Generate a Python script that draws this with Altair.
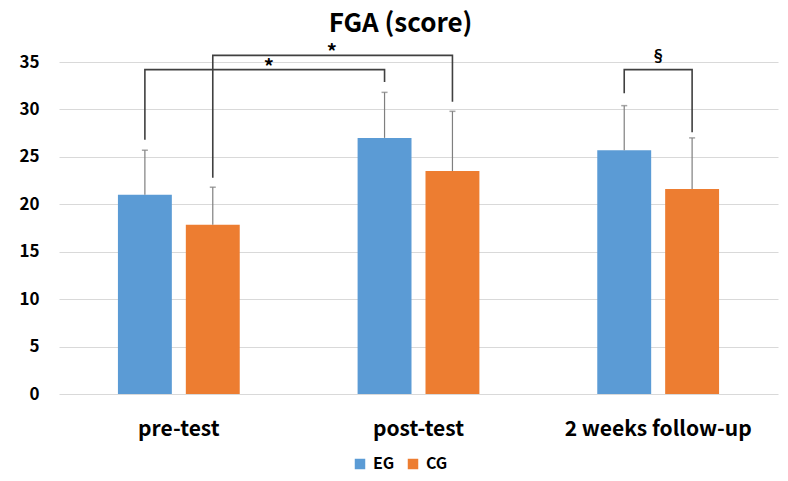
import altair as alt
import pandas as pd

periods = ["pre-test", "post-test", "2 weeks follow-up"]
groups = ["EG", "CG"]
eg_mean = [21.0, 27.0, 25.7]
cg_mean = [17.85, 23.5, 21.6]
eg_upper = [25.7, 31.8, 30.4]
cg_upper = [21.8, 29.8, 27.0]
colors = ["#5B9BD5", "#ED7D31"]

# significance brackets: (period, group, y) points in drawing order
br_id = [1, 1, 1, 1, 2, 2, 2, 2, 3, 3, 3, 3]
br_step = [0, 1, 2, 3] * 3
br_period = ["pre-test", "pre-test", "post-test", "post-test",
             "pre-test", "pre-test", "post-test", "post-test",
             "2 weeks follow-up", "2 weeks follow-up", "2 weeks follow-up", "2 weeks follow-up"]
br_group = ["EG", "EG", "EG", "EG", "CG", "CG", "CG", "CG", "EG", "EG", "CG", "CG"]
br_y = [26.8, 34.2, 34.2, 32.9,
        22.8, 35.7, 35.7, 30.8,
        31.7, 34.2, 34.2, 27.6]

sig_text = ["*", "*", "§"]
sig_period = ["pre-test", "pre-test", "2 weeks follow-up"]
sig_group = ["EG", "CG", "EG"]
sig_y = [34.2, 35.7, 34.2]
sig_dx = [124, 119, 34]
sig_dy = [4, 4, -9]
sig_size = [20, 20, 15]

FONT = "Noto Sans CJK KR"

rows = []
for i, p in enumerate(periods):
    rows.append({"period": p, "group": "EG", "mean": eg_mean[i], "upper": eg_upper[i]})
    rows.append({"period": p, "group": "CG", "mean": cg_mean[i], "upper": cg_upper[i]})
df = pd.DataFrame(rows)

br = pd.DataFrame({"id": br_id, "step": br_step, "period": br_period,
                   "group": br_group, "y": br_y})

xenc = alt.X("period:N", sort=periods,
             scale=alt.Scale(domain=periods, paddingInner=0, paddingOuter=0),
             axis=alt.Axis(title=None, labelAngle=0, labelFontSize=21,
                           labelFontWeight="bold", labelColor="#000000",
                           labelFont=FONT, domain=False, ticks=False,
                           labelPadding=24, labelLimit=400))
xoff = alt.XOffset("group:N", sort=groups,
                   scale=alt.Scale(domain=groups, paddingInner=0.206, paddingOuter=0.868))
yscale = alt.Scale(domain=[0, 35], nice=False)

bars = alt.Chart(df).mark_bar().encode(
    x=xenc,
    xOffset=xoff,
    y=alt.Y("mean:Q", scale=yscale,
            axis=alt.Axis(title=None, values=[0, 5, 10, 15, 20, 25, 30, 35],
                          labelFontSize=17, labelFontWeight="bold",
                          labelColor="#000000", labelFont=FONT,
                          domain=False, ticks=False, labelPadding=20,
                          gridColor="#d9d9d9", gridWidth=1.2)),
    color=alt.Color("group:N", sort=groups,
                    scale=alt.Scale(domain=groups, range=colors),
                    legend=alt.Legend(title=None, orient="none", direction="horizontal",
                                      legendX=293, legendY=394,
                                      symbolType="square", symbolSize=110,
                                      symbolStrokeWidth=0,
                                      labelFontSize=16, labelFontWeight="bold",
                                      labelFont=FONT, labelColor="#000000",
                                      columnPadding=10, labelOffset=5)),
)

err = alt.Chart(df).mark_rule(color="#7f7f7f", strokeWidth=1.2).encode(
    x=alt.X("period:N", sort=periods),
    xOffset=alt.XOffset("group:N", sort=groups),
    y="mean:Q",
    y2="upper:Q",
)

caps = alt.Chart(df).mark_tick(color="#7f7f7f", thickness=1.5, size=6).encode(
    x=alt.X("period:N", sort=periods),
    xOffset=alt.XOffset("group:N", sort=groups),
    y="upper:Q",
)

brackets = alt.Chart(br).mark_line(color="#404040", strokeWidth=1.6).encode(
    x=alt.X("period:N", sort=periods),
    xOffset=alt.XOffset("group:N", sort=groups),
    y="y:Q",
    detail="id:N",
    order="step:Q",
)

star_layers = []
for i in range(len(sig_text)):
    sdf = pd.DataFrame({"t": [sig_text[i]], "period": [sig_period[i]],
                        "group": [sig_group[i]], "y": [sig_y[i]]})
    star_layers.append(
        alt.Chart(sdf).mark_text(baseline="alphabetic", fontSize=sig_size[i],
                                 fontWeight="bold", font=FONT, color="#000000",
                                 dy=sig_dy[i], dx=sig_dx[i]).encode(
            x=alt.X("period:N", sort=periods),
            xOffset=alt.XOffset("group:N", sort=groups),
            y="y:Q",
            text="t:N",
        )
    )

chart = alt.layer(bars, err, caps, brackets, *star_layers).properties(
    width=719, height=332,
    title=alt.TitleParams("FGA (score)", fontSize=26, fontWeight="bold", font=FONT,
                          color="#000000", anchor="middle", dx=-18, offset=6),
    autosize=alt.AutoSizeParams(type="none"),
    padding={"left": 51, "top": 54, "right": 2, "bottom": 79},
).configure_view(stroke=None)

chart.save("out.html", embed_options={"renderer": "svg", "actions": False})
